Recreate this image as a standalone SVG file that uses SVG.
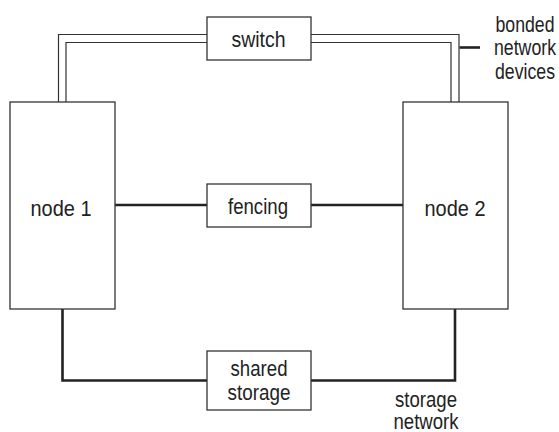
<svg xmlns="http://www.w3.org/2000/svg" width="559" height="432" viewBox="0 0 559 432">
<style>
.box{fill:#fff;stroke:#333;stroke-width:1.3}
.thin{fill:none;stroke:#333;stroke-width:1.2}
.thick{fill:none;stroke:#222;stroke-width:2.6}
text{font-family:"Liberation Sans",Arial,sans-serif;font-size:22.5px;fill:#222;text-anchor:middle}
</style>
<rect width="559" height="432" fill="#fff"/>
<g id="connectors">
<path class="thin" d="M58.5,102V34.5H207M66,102V42.5H207"/>
<path class="thin" d="M311,34.5H459V102M311,42.5H451V102"/>
<path class="thick" d="M459.5,47.5H480"/>
<path class="thick" d="M115,205H207M311,205H403"/>
<path class="thick" d="M62.5,309V380.5H207M311,380.5H455V309"/>
</g>
<g id="node1"><rect class="box" x="10" y="102" width="105" height="207"/><text x="61" y="216" textLength="61" lengthAdjust="spacingAndGlyphs">node 1</text></g>
<g id="node2"><rect class="box" x="403" y="102" width="105" height="207"/><text x="455" y="216" textLength="61" lengthAdjust="spacingAndGlyphs">node 2</text></g>
<g id="switch"><rect class="box" x="207" y="17" width="104" height="43"/><text x="258.5" y="46.5" textLength="54" lengthAdjust="spacingAndGlyphs">switch</text></g>
<g id="fencing"><rect class="box" x="207" y="184" width="104" height="43"/><text x="258" y="213.5" textLength="60" lengthAdjust="spacingAndGlyphs">fencing</text></g>
<g id="shared-storage"><rect class="box" x="207" y="351" width="104" height="59"/><text x="259" y="376" textLength="57" lengthAdjust="spacingAndGlyphs">shared</text><text x="259" y="400" textLength="63" lengthAdjust="spacingAndGlyphs">storage</text></g>
<g id="bonded-label"><text x="525" y="31.5" textLength="59" lengthAdjust="spacingAndGlyphs">bonded</text><text x="525" y="55" textLength="62" lengthAdjust="spacingAndGlyphs">network</text><text x="525" y="79" textLength="60" lengthAdjust="spacingAndGlyphs">devices</text></g>
<g id="storage-label"><text x="426" y="407" textLength="62" lengthAdjust="spacingAndGlyphs">storage</text><text x="426" y="429" textLength="65" lengthAdjust="spacingAndGlyphs">network</text></g>
</svg>
